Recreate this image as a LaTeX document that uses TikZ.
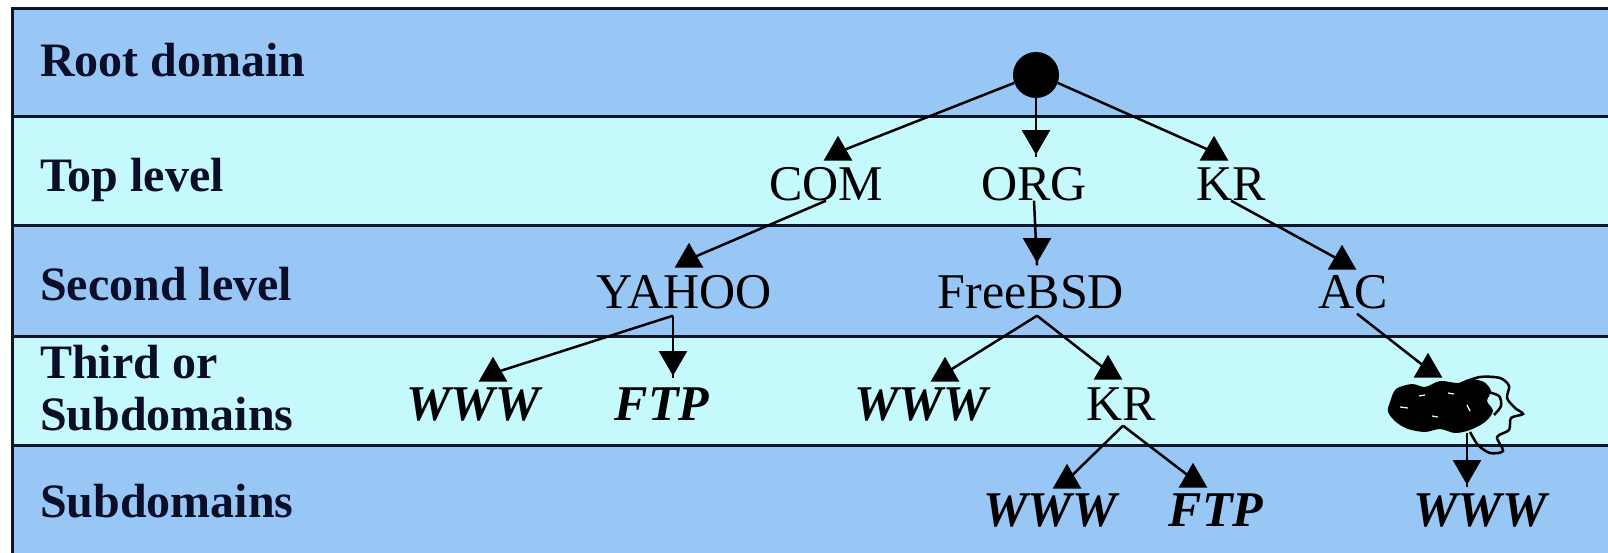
\documentclass[tikz,border=0pt]{standalone}
\usepackage{fontspec}
\setmainfont{Liberation Serif}
\usetikzlibrary{calc,shapes.geometric}
\definecolor{bandDark}{RGB}{153,199,245}
\definecolor{bandLight}{RGB}{198,249,252}
\definecolor{rulecol}{RGB}{16,22,40}
\definecolor{labtext}{RGB}{10,14,40}
\begin{document}
\begin{tikzpicture}[x=1pt,y=-1pt,
  lab/.style={anchor=west, inner sep=0pt, text height=32pt, text depth=0pt,
    font=\fontsize{48}{52}\selectfont\bfseries, text=labtext},
  nd/.style={inner sep=0pt, text height=33pt, text depth=0pt,
    font=\fontsize{50}{60}\selectfont},
  ndi/.style={nd, font=\fontsize{50}{60}\selectfont\bfseries\itshape},
  conn/.style={line width=2.5pt, black},
  uptri/.style={regular polygon, regular polygon sides=3, fill=black,
    inner sep=0pt, minimum size=33pt},
  downtri/.style={uptri, shape border rotate=180, anchor=south},
  rulel/.style={rulecol, line width=3pt},
]
\useasboundingbox (0,0) rectangle (1608,553);
\fill[white] (0,0) rectangle (1608,553);
% bands
\fill[bandDark]  (12,9)   rectangle (1608,117);
\fill[bandLight] (12,117) rectangle (1608,226);
\fill[bandDark]  (12,226) rectangle (1608,336);
\fill[bandLight] (12,336) rectangle (1608,445);
\fill[bandDark]  (12,445) rectangle (1608,553);
\foreach \yy in {9,117,226,336,445} {\draw[rulel] (12,\yy) -- (1608,\yy);}
\draw[rulel] (12,7.5) -- (12,553);

% level labels
\node[lab] (l1)  at (40,61)  {Root domain};
\node[lab] (l2)  at (40,176) {Top level};
\node[lab] (l3)  at (40,284) {Second level};
\node[lab] (l4a) at (40,362) {Third or};
\node[lab] (l4b) at (40,414) {Subdomains};
\node[lab] (l5)  at (40,501) {Subdomains};

% nodes
\node[circle, fill=black, minimum size=46pt, inner sep=0pt] (root) at (1036,75) {};
\node[nd] (com) at (826,184) {COM};
\node[nd] (org) at (1034,184) {ORG};
\node[nd] (kr1) at (1231,184) {KR};
\node[nd] (yahoo) at (684,292) {YAHOO};
\node[nd] (fbsd) at (1031,292) {FreeBSD};
\node[nd] (ac) at (1353,292) {AC};
\node[ndi] (www1) at (473,404) {WWW};
\node[ndi] (ftp1) at (662,404) {FTP};
\node[ndi] (www2) at (921,404) {WWW};
\node[nd] (kr2) at (1121,404) {KR};
\node[minimum width=130pt, minimum height=73pt, inner sep=0pt] (blob) at (1455,416) {};
\node[ndi] (www3) at (1050,510) {WWW};
\node[ndi] (ftp2) at (1216,510) {FTP};
\node[ndi] (www4) at (1480,510) {WWW};

% scribbled blob
\fill[black] plot[smooth cycle] coordinates {(1390,402) (1396,389) (1412,384) (1425,387) (1440,381) (1458,383) (1470,379) (1484,382) (1491,391) (1487,401) (1493,411) (1485,422) (1470,430) (1455,433) (1440,429) (1425,432) (1408,429) (1396,422) (1388,412)};
\draw[white, line width=1.2pt] (1400,407) -- (1408,408);
\draw[white, line width=1.2pt] (1419,396) -- (1425,395);
\draw[white, line width=1.2pt] (1448,393) -- (1454,394);
\draw[white, line width=1.2pt] (1467,405) -- (1470,411);
\draw[white, line width=1.2pt] (1432,416) -- (1438,417);
\draw[line width=2.5pt] plot[smooth] coordinates {(1462,383) (1480,377) (1500,378) (1509,386) (1507,398) (1515,408) (1523,414) (1511,418) (1509,430) (1497,437) (1503,451) (1490,453) (1478,445) (1470,432)};
\draw[line width=2.5pt] plot[smooth] coordinates {(1488,392) (1499,396) (1501,406) (1494,415)};

% connectors
\draw[conn] (root.200) -- ($(com.north)+(12,-15)$) node[uptri] (a1) {};
\draw[conn] (root.south) -- ($(org.north)+(2,-10)$) node[downtri] (a2) {};
\draw[conn] (root.340) -- ($(kr1.north)+(-17,-15)$) node[uptri] (a3) {};
\draw[conn] (com.south) -- ($(yahoo.north)+(5,-16)$) node[uptri] (a4) {};
\draw[conn] (org.south) -- ($(fbsd.north)+(6,-10)$) node[downtri] (a5) {};
\draw[conn] (kr1.south) -- ($(ac.north)+(-11,-14)$) node[uptri] (a6) {};
\draw[conn] ($(yahoo.south)+(-11,7)$) -- ($(www1.north)+(20,-14)$) node[uptri] (a7) {};
\draw[conn] ($(yahoo.south)+(-11,7)$) -- ($(ftp1.north)+(11,-9)$) node[downtri] (a8) {};
\draw[conn] ($(fbsd.south)+(6,7)$) -- ($(www2.north)+(24,-14)$) node[uptri] (a9) {};
\draw[conn] ($(fbsd.south)+(6,7)$) -- ($(kr2.north)+(-13,-16)$) node[uptri] (a10) {};
\draw[conn] ($(ac.south)+(4,5)$) -- ($(blob.north)+(-27,-10)$) node[uptri] (a11) {};
\draw[conn] ($(kr2.south)+(2,5)$) -- ($(www3.north)+(17,-13)$) node[uptri] (a12) {};
\draw[conn] ($(kr2.south)+(2,5)$) -- ($(ftp2.north)+(-23,-14)$) node[uptri] (a13) {};
\draw[conn] ($(blob.center)+(12,17)$) -- ($(www4.north)+(-13,-6)$) node[downtri] (a14) {};
\end{tikzpicture}
\end{document}
